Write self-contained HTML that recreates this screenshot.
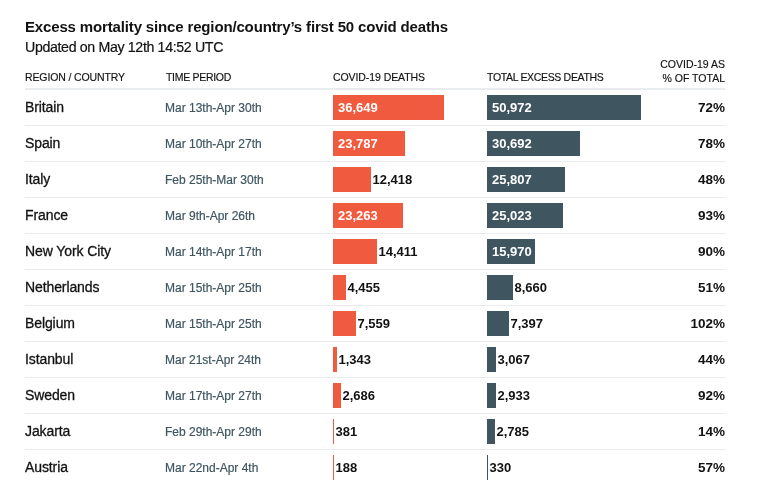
<!DOCTYPE html>
<html><head><meta charset="utf-8"><title>Excess mortality</title>
<style>
html,body{margin:0;padding:0;background:#fff;}
body{width:760px;height:493px;overflow:hidden;position:relative;font-family:"Liberation Sans",sans-serif;color:#121212;}
.title{position:absolute;left:25px;top:17px;font-size:15px;font-weight:bold;line-height:20px;white-space:nowrap;letter-spacing:-0.15px;}
.sub{position:absolute;left:25px;top:37.8px;-webkit-text-stroke:0.2px #121212;font-size:14.2px;line-height:18px;white-space:nowrap;letter-spacing:-0.35px;}
.h{position:absolute;font-size:10.5px;line-height:13px;white-space:nowrap;color:#121212;-webkit-text-stroke:0.15px #121212;}
.hr{position:absolute;left:25px;width:700px;height:2px;top:88px;background:#e8ecef;}
.row{position:absolute;left:25px;width:700px;height:35px;border-bottom:1px solid #e8ecef;}
.row.last{border-bottom:none;}
.row div{position:absolute;white-space:nowrap;}
.c1{left:0px;top:-0.3px;line-height:35px;font-size:14px;letter-spacing:-0.1px;-webkit-text-stroke:0.3px #121212;}
.c2{left:140px;top:0.5px;line-height:35px;font-size:12px;letter-spacing:0px;color:#3f5661;-webkit-text-stroke:0.2px #3f5661;}
.bar{top:5px;height:25px;}
.r{background:#f05a3e;left:308px;}
.d{background:#3f5661;left:462px;}
.v{top:4.5px;line-height:25px;font-size:13px;font-weight:bold;}
.in{color:#fff;}
.c5{right:0;top:-0.5px;line-height:35px;font-size:13.5px;font-weight:bold;text-align:right;}
</style></head><body>
<div class="title">Excess mortality since region/country’s first 50 covid deaths</div>
<div class="sub">Updated on May 12th 14:52 UTC</div>
<div class="h" style="left:25px;top:71px;letter-spacing:-0.12px">REGION / COUNTRY</div>
<div class="h" style="left:166px;top:71px;letter-spacing:-0.3px">TIME PERIOD</div>
<div class="h" style="left:333px;top:71px;letter-spacing:-0.08px">COVID-19 DEATHS</div>
<div class="h" style="left:487px;top:71px;letter-spacing:-0.33px">TOTAL EXCESS DEATHS</div>
<div class="h" style="right:35px;top:57px;text-align:right;line-height:14px">COVID-19 AS<br>% OF TOTAL</div>
<div class="hr"></div>
<div class="row" style="top:90px"><div class="c1">Britain</div><div class="c2">Mar 13th-Apr 30th</div><div class="bar r" style="width:111px"></div><div class="v in" style="left:313px">36,649</div><div class="bar d" style="width:154px"></div><div class="v in" style="left:467px">50,972</div><div class="c5">72%</div></div>
<div class="row" style="top:126px"><div class="c1">Spain</div><div class="c2">Mar 10th-Apr 27th</div><div class="bar r" style="width:72px"></div><div class="v in" style="left:313px">23,787</div><div class="bar d" style="width:93px"></div><div class="v in" style="left:467px">30,692</div><div class="c5">78%</div></div>
<div class="row" style="top:162px"><div class="c1">Italy</div><div class="c2">Feb 25th-Mar 30th</div><div class="bar r" style="width:38px"></div><div class="v" style="left:347.5px">12,418</div><div class="bar d" style="width:78px"></div><div class="v in" style="left:467px">25,807</div><div class="c5">48%</div></div>
<div class="row" style="top:198px"><div class="c1">France</div><div class="c2">Mar 9th-Apr 26th</div><div class="bar r" style="width:70px"></div><div class="v in" style="left:313px">23,263</div><div class="bar d" style="width:76px"></div><div class="v in" style="left:467px">25,023</div><div class="c5">93%</div></div>
<div class="row" style="top:234px"><div class="c1">New York City</div><div class="c2">Mar 14th-Apr 17th</div><div class="bar r" style="width:44px"></div><div class="v" style="left:353.5px">14,411</div><div class="bar d" style="width:48px"></div><div class="v in" style="left:467px">15,970</div><div class="c5">90%</div></div>
<div class="row" style="top:270px"><div class="c1">Netherlands</div><div class="c2">Mar 15th-Apr 25th</div><div class="bar r" style="width:13px"></div><div class="v" style="left:322.5px">4,455</div><div class="bar d" style="width:26px"></div><div class="v" style="left:489.5px">8,660</div><div class="c5">51%</div></div>
<div class="row" style="top:306px"><div class="c1">Belgium</div><div class="c2">Mar 15th-Apr 25th</div><div class="bar r" style="width:23px"></div><div class="v" style="left:332.5px">7,559</div><div class="bar d" style="width:22px"></div><div class="v" style="left:485.5px">7,397</div><div class="c5">102%</div></div>
<div class="row" style="top:342px"><div class="c1">Istanbul</div><div class="c2">Mar 21st-Apr 24th</div><div class="bar r" style="width:4px"></div><div class="v" style="left:313.5px">1,343</div><div class="bar d" style="width:9px"></div><div class="v" style="left:472.5px">3,067</div><div class="c5">44%</div></div>
<div class="row" style="top:378px"><div class="c1">Sweden</div><div class="c2">Mar 17th-Apr 27th</div><div class="bar r" style="width:8px"></div><div class="v" style="left:317.5px">2,686</div><div class="bar d" style="width:9px"></div><div class="v" style="left:472.5px">2,933</div><div class="c5">92%</div></div>
<div class="row" style="top:414px"><div class="c1">Jakarta</div><div class="c2">Feb 29th-Apr 29th</div><div class="bar r" style="width:1px"></div><div class="v" style="left:310.5px">381</div><div class="bar d" style="width:8px"></div><div class="v" style="left:471.5px">2,785</div><div class="c5">14%</div></div>
<div class="row last" style="top:450px"><div class="c1">Austria</div><div class="c2">Mar 22nd-Apr 4th</div><div class="bar r" style="width:1px"></div><div class="v" style="left:310.5px">188</div><div class="bar d" style="width:1px"></div><div class="v" style="left:464.5px">330</div><div class="c5">57%</div></div>
</body></html>
